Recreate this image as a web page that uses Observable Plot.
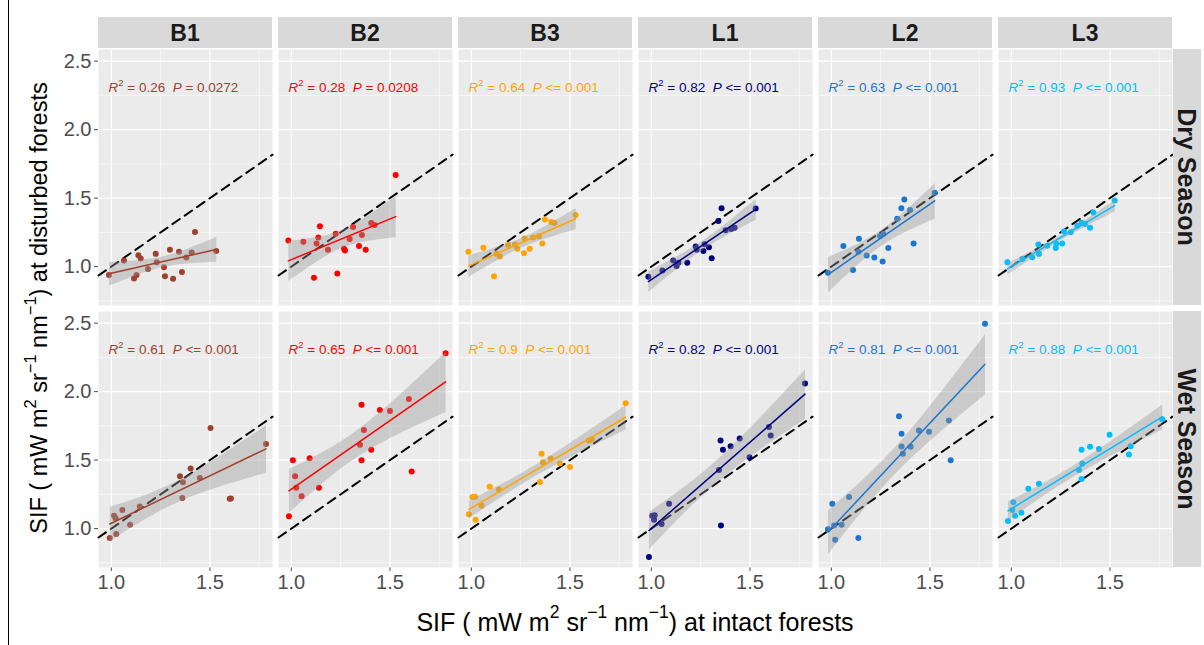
<!DOCTYPE html>
<html><head><meta charset="utf-8">
<script src="https://cdn.jsdelivr.net/npm/d3@7"></script>
<script src="https://cdn.jsdelivr.net/npm/@observablehq/plot@0.6"></script>
<style>
html,body{margin:0;padding:0;background:#fff;}
#chart{position:relative;width:1204px;height:645px;}
</style></head><body><div id="chart"></div>
<script>
const sites = ["B1","B2","B3","L1","L2","L3"];
const seasons = ["Dry Season","Wet Season"];
const siteColors = ["#A0412F","#FF0000","#FFA500","#000080","#1C76CF","#00BFFF"];
const r2Dry = ["0.26","0.28","0.64","0.82","0.63","0.93"];
const pDry  = ["= 0.0272","= 0.0208","<= 0.001","<= 0.001","<= 0.001","<= 0.001"];
const r2Wet = ["0.61","0.65","0.9","0.82","0.81","0.88"];
const pWet  = ["<= 0.001","<= 0.001","<= 0.001","<= 0.001","<= 0.001","<= 0.001"];
const xTicks = [1.0, 1.5];
const xMinor = [1.25, 1.75];
const yTicks = [1.0, 1.5, 2.0, 2.5];
const yMinor = [0.75, 1.25, 1.75, 2.25];
const xDomain = [0.935, 1.817];
const yDomain = [0.716, 2.585];

// Dry season points [intact, disturbed]
const B1_dry = [[0.988,0.939],[1.064,1.044],[1.137,1.083],[1.149,1.059],[1.115,0.914],[1.128,0.939],[1.186,0.983],[1.225,1.093],[1.230,1.032],[1.267,0.995],[1.272,0.929],[1.297,1.123],[1.313,0.912],[1.343,1.108],[1.358,0.961],[1.380,1.066],[1.407,1.103],[1.424,1.252],[1.532,1.113]];
const B2_dry = [[0.985,1.191],[1.061,1.181],[1.145,1.294],[1.137,1.213],[1.128,1.169],[1.115,0.919],[1.186,1.123],[1.225,1.240],[1.233,0.949],[1.267,1.130],[1.272,1.118],[1.296,1.201],[1.313,1.289],[1.343,1.150],[1.358,1.230],[1.377,1.123],[1.405,1.319],[1.422,1.304],[1.529,1.669]];
const B3_dry = [[0.985,1.108],[1.061,1.137],[1.128,1.093],[1.145,1.074],[1.115,0.929],[1.186,1.159],[1.221,1.162],[1.233,1.130],[1.267,1.098],[1.270,1.206],[1.296,1.130],[1.313,1.213],[1.343,1.221],[1.360,1.169],[1.373,1.343],[1.405,1.326],[1.422,1.319],[1.529,1.377]];
const L1_dry = [[0.985,0.926],[1.056,0.971],[1.111,1.044],[1.128,1.005],[1.137,1.029],[1.182,1.029],[1.225,1.147],[1.230,1.123],[1.264,1.113],[1.270,1.164],[1.292,1.142],[1.306,1.061],[1.340,1.333],[1.356,1.426],[1.377,1.265],[1.405,1.275],[1.422,1.284],[1.529,1.424]];
const L2_dry = [[0.983,0.956],[1.061,1.150],[1.140,1.203],[1.110,0.975],[1.137,1.108],[1.179,1.081],[1.218,1.066],[1.247,1.223],[1.264,1.238],[1.260,1.037],[1.289,1.135],[1.334,1.350],[1.355,1.426],[1.370,1.490],[1.399,1.414],[1.417,1.169],[1.524,1.539]];
const L3_dry = [[0.980,1.032],[1.056,1.056],[1.106,1.069],[1.137,1.162],[1.140,1.093],[1.182,1.152],[1.225,1.135],[1.228,1.167],[1.258,1.169],[1.267,1.257],[1.301,1.250],[1.334,1.299],[1.356,1.321],[1.373,1.311],[1.399,1.284],[1.416,1.395],[1.524,1.483]];
// Wet season points [intact, disturbed]
const B1_wet = [[0.992,0.931],[1.025,0.961],[1.014,1.093],[1.022,1.076],[1.056,1.135],[1.095,1.029],[1.144,1.161],[1.348,1.382],[1.363,1.338],[1.360,1.223],[1.402,1.438],[1.449,1.369],[1.503,1.734],[1.600,1.218],[1.606,1.220],[1.784,1.617]];
const B2_wet = [[0.988,1.091],[1.008,1.499],[1.019,1.382],[1.025,1.299],[1.052,1.237],[1.093,1.514],[1.140,1.299],[1.348,1.612],[1.356,1.499],[1.356,1.905],[1.368,1.719],[1.405,1.575],[1.449,1.866],[1.500,1.859],[1.596,1.947],[1.610,1.416],[1.782,2.280]];
const B3_wet = [[0.988,1.105],[1.005,1.230],[1.019,1.232],[1.022,1.064],[1.052,1.166],[1.093,1.306],[1.140,1.286],[1.348,1.340],[1.356,1.546],[1.363,1.484],[1.402,1.511],[1.449,1.475],[1.500,1.450],[1.596,1.644],[1.610,1.653],[1.782,1.915]];
const L1_wet = [[0.988,0.792],[1.005,1.093],[1.017,1.098],[1.014,1.064],[1.052,1.034],[1.090,1.181],[1.343,1.428],[1.351,1.643],[1.363,1.575],[1.353,1.022],[1.402,1.602],[1.448,1.658],[1.498,1.521],[1.596,1.741],[1.605,1.680],[1.779,2.059]];
const L2_wet = [[0.983,0.995],[1.005,1.181],[1.014,1.022],[1.019,0.919],[1.052,1.029],[1.090,1.230],[1.137,0.931],[1.343,1.820],[1.356,1.692],[1.356,1.599],[1.363,1.546],[1.402,1.597],[1.444,1.717],[1.495,1.707],[1.596,1.790],[1.605,1.499],[1.779,2.495]];
const L3_wet = [[0.983,1.056],[1.010,1.193],[1.005,1.135],[1.019,1.093],[1.051,1.115],[1.086,1.291],[1.140,1.328],[1.343,1.428],[1.356,1.575],[1.360,1.475],[1.356,1.362],[1.399,1.597],[1.444,1.582],[1.498,1.685],[1.596,1.541],[1.605,1.602],[1.765,1.798]];

const dryPts = [B1_dry, B2_dry, B3_dry, L1_dry, L2_dry, L3_dry];
const wetPts = [B1_wet, B2_wet, B3_wet, L1_wet, L2_wet, L3_wet];

const rows = [];
sites.forEach((s, i) => {
  dryPts[i].forEach(([x, y]) => rows.push({site: s, season: seasons[0], x, y}));
  wetPts[i].forEach(([x, y]) => rows.push({site: s, season: seasons[1], x, y}));
});
const labels = [];
sites.forEach((s, i) => {
  labels.push({site: s, season: seasons[0], label: `R^2 = ${r2Dry[i]}  P ${pDry[i]}`});
  labels.push({site: s, season: seasons[1], label: `R^2 = ${r2Wet[i]}  P ${pWet[i]}`});
});

const W = 1204, H = 645;
const mLeft = 98, mRight = 32, mTop = 49, mBottom = 78;

const plot = Plot.plot({
  width: W, height: H,
  marginLeft: mLeft, marginRight: mRight, marginTop: mTop, marginBottom: mBottom,
  style: {fontFamily: "'Liberation Sans', Arial, sans-serif", fontSize: "20px", color: "#4D4D4D", background: "white", overflow: "visible"},
  x: {domain: xDomain, ticks: xTicks, tickFormat: ".1f", tickSize: 4, tickPadding: 3, label: null},
  y: {domain: yDomain, ticks: yTicks, tickFormat: ".1f", tickSize: 4, tickPadding: 3, label: null},
  fx: {domain: sites, paddingInner: 6/180, paddingOuter: 0, axis: null, label: null},
  fy: {domain: seasons, paddingInner: 6/262, paddingOuter: 0, axis: null, label: null},
  color: {domain: sites, range: siteColors},
  marks: [
    Plot.frame({fill: "#EBEBEB", stroke: "none"}),
    Plot.ruleX(xMinor, {stroke: "#fff", strokeWidth: 0.6}),
    Plot.ruleY(yMinor, {stroke: "#fff", strokeWidth: 0.6}),
    Plot.ruleX(xTicks, {stroke: "#fff", strokeWidth: 1.2}),
    Plot.ruleY(yTicks, {stroke: "#fff", strokeWidth: 1.2}),
    Plot.line(xDomain, {x: d => d, y: d => d, stroke: "black", strokeWidth: 2, strokeDasharray: "9,6"}),
    Plot.dot(rows, {x: "x", y: "y", fx: "site", fy: "season", fill: "site", r: 3}),
    Plot.linearRegressionY(rows, {x: "x", y: "y", fx: "site", fy: "season", stroke: "site", fill: "#999999", fillOpacity: 0.4, strokeWidth: 1.5}),
    Plot.text(labels, {fx: "site", fy: "season", text: "label", fill: "site", frameAnchor: "top-left", dx: 10, dy: 38, textAnchor: "start", lineAnchor: "middle", fontSize: 13.5})
  ]
});
document.getElementById("chart").appendChild(plot);

const svg = d3.select(plot);

function rich(textSel, parts, base) {
  let shift = 0;
  for (const [str, kind] of parts) {
    const t = textSel.append("tspan").text(str);
    if (kind === "i") t.attr("font-style", "italic");
    if (kind === "sup") { t.attr("font-size", base * 0.7).attr("dy", -base * 0.4); shift = base * 0.4; }
    else if (shift) { t.attr("dy", shift); shift = 0; }
  }
}

// annotation rich text (italic R, P and superscript 2)
svg.selectAll("text").each(function() {
  const txt = this.textContent;
  const m = /^R\^2 = (\S+)  P (.*)$/.exec(txt);
  if (!m) return;
  const sel = d3.select(this);
  sel.text(null).attr("xml:space", "preserve").style("white-space", "pre");
  rich(sel, [["R", "i"], ["2", "sup"], [" = " + m[1] + "  ", "n"], ["P", "i"], [" " + m[2], "n"]], 13.5);
});

// facet strips
const fx = plot.scale("fx"), fy = plot.scale("fy");
const bw = fx.bandwidth, bh = fy.bandwidth;
const g = svg.append("g");
sites.forEach(s => {
  const x0 = fx.apply(s);
  g.append("rect").attr("x", x0).attr("y", 17).attr("width", bw).attr("height", 31).attr("fill", "#D9D9D9");
  g.append("text").attr("x", x0 + bw / 2).attr("y", 33).attr("text-anchor", "middle").attr("dominant-baseline", "central")
    .attr("font-size", 23).attr("font-weight", "bold").attr("fill", "#1A1A1A").text(s);
});
const rx = W - mRight + 1;
seasons.forEach(se => {
  const y0 = fy.apply(se);
  g.append("rect").attr("x", rx).attr("y", y0).attr("width", 28).attr("height", bh).attr("fill", "#D9D9D9");
  g.append("text").attr("transform", `translate(${rx + 14},${y0 + bh / 2}) rotate(90)`).attr("text-anchor", "middle").attr("dominant-baseline", "central")
    .attr("font-size", 25).attr("font-weight", "bold").attr("fill", "#1A1A1A").text(se);
});

// axis titles
const xt = svg.append("text").attr("x", mLeft + (W - mLeft - mRight) / 2).attr("y", 622).attr("text-anchor", "middle")
  .attr("dominant-baseline", "central").attr("font-size", 25).attr("fill", "#000");
rich(xt, [["SIF ( mW m", "n"], ["2", "sup"], [" sr", "n"], ["\u22121", "sup"], [" nm", "n"], ["\u22121", "sup"], [") at intact forests", "n"]], 25);
const yt = svg.append("text").attr("transform", `translate(39,${mTop + (H - mTop - mBottom) / 2}) rotate(-90)`).attr("text-anchor", "middle")
  .attr("dominant-baseline", "central").attr("font-size", 23.5).attr("fill", "#000");
rich(yt, [["SIF ( mW m", "n"], ["2", "sup"], [" sr", "n"], ["\u22121", "sup"], [" nm", "n"], ["\u22121", "sup"], [") at disturbed forests", "n"]], 23.5);

// outer border line on left
svg.append("line").attr("x1", 8.5).attr("x2", 8.5).attr("y1", 0).attr("y2", H).attr("stroke", "#000").attr("stroke-width", 1);
</script></body></html>
